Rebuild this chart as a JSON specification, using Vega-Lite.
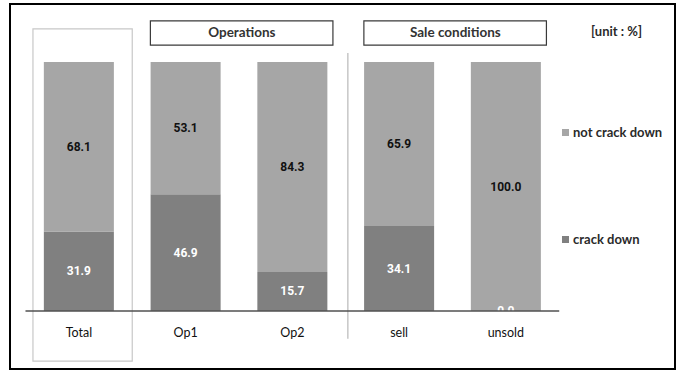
{
  "$schema": "https://vega.github.io/schema/vega-lite/v6.json",
  "width": 665,
  "height": 365,
  "autosize": "none",
  "padding": {"left": 10, "top": 4, "right": 9, "bottom": 5},
  "config": {
    "view": {"stroke": "#000", "strokeWidth": 2},
    "font": "Lato"
  },
  "title": {
    "text": "[unit : %]",
    "anchor": "end",
    "frame": "group",
    "dx": -33,
    "dy": 39,
    "font": "Lato",
    "fontSize": 13,
    "fontWeight": "bold",
    "color": "#2a2a2a"
  },
  "datasets": {
    "shares": [
      {"cat": "Total", "status": "crack down", "value": 31.9},
      {"cat": "Total", "status": "not crack down", "value": 68.1},
      {"cat": "Op1", "status": "crack down", "value": 46.9},
      {"cat": "Op1", "status": "not crack down", "value": 53.1},
      {"cat": "Op2", "status": "crack down", "value": 15.7},
      {"cat": "Op2", "status": "not crack down", "value": 84.3},
      {"cat": "sell", "status": "crack down", "value": 34.1},
      {"cat": "sell", "status": "not crack down", "value": 65.9},
      {"cat": "unsold", "status": "crack down", "value": 0.0},
      {"cat": "unsold", "status": "not crack down", "value": 100.0}
    ],
    "groups": [
      {"group": "Operations", "first": "Op1", "last": "Op2"},
      {"group": "Sale conditions", "first": "sell", "last": "unsold"}
    ]
  },
  "layer": [
    {
      "data": {"name": "shares"},
      "transform": [
        {"stack": "value", "groupby": ["cat"], "sort": [{"field": "status", "order": "ascending"}], "as": ["v0", "v1"]}
      ],
      "mark": {"type": "bar", "width": {"band": 0.656}},
      "encoding": {
        "x": {
          "field": "cat",
          "type": "nominal",
          "scale": {"domain": ["Total", "Op1", "Op2", "sell", "unsold"], "paddingInner": 0, "paddingOuter": 0.6148, "align": 0.118},
          "axis": {
            "title": null,
            "domain": false,
            "ticks": false,
            "offset": -58,
            "labelPadding": 15,
            "labelAngle": 0,
            "labelFont": "Lato",
            "labelFontSize": 12.5,
            "labelColor": "#111"
          }
        },
        "y": {"field": "v0", "type": "quantitative", "scale": {"domain": [-23.3, 123.3], "nice": false, "zero": false}, "axis": null},
        "y2": {"field": "v1"},
        "color": {
          "field": "status",
          "type": "nominal",
          "scale": {"domain": ["not crack down", "crack down"], "range": ["#a6a6a6", "#808080"]},
          "legend": {
            "orient": "none",
            "legendX": 549,
            "legendY": 122,
            "title": null,
            "symbolType": "square",
            "symbolSize": 49,
            "symbolStrokeWidth": 0,
            "rowPadding": 93,
            "padding": 0,
            "labelOffset": 1,
            "labelFont": "Lato",
            "labelFontSize": 13,
            "labelFontWeight": "bold",
            "labelColor": "#2a2a2a"
          }
        }
      }
    },
    {
      "data": {"name": "shares"},
      "transform": [
        {"stack": "value", "groupby": ["cat"], "sort": [{"field": "status", "order": "ascending"}], "as": ["v0", "v1"]},
        {"calculate": "(datum.v0 + datum.v1) / 2", "as": "mid"}
      ],
      "mark": {"type": "text", "font": "Roboto", "fontSize": 12, "fontWeight": "bold", "baseline": "middle", "align": "center"},
      "encoding": {
        "x": {"field": "cat", "type": "nominal"},
        "y": {"field": "mid", "type": "quantitative"},
        "text": {"field": "value", "type": "quantitative", "format": ".1f"},
        "color": {
          "condition": {"test": "datum.status === 'crack down'", "value": "#ffffff"},
          "value": "#111111"
        }
      }
    },
    {
      "data": {"values": [{"cat": "Total"}]},
      "mark": {"type": "rect", "filled": false, "stroke": "#c8c8c8", "strokeWidth": 1.2},
      "encoding": {
        "x": {"field": "cat", "type": "nominal", "bandPosition": 0.07},
        "x2": {"field": "cat", "bandPosition": 1.0},
        "y": {"datum": 113.3},
        "y2": {"datum": -20.1}
      }
    },
    {
      "data": {"values": [{"cat": "sell"}]},
      "mark": {"type": "rule", "stroke": "#b8b8b8", "strokeWidth": 1.2},
      "encoding": {
        "x": {"field": "cat", "type": "nominal", "bandPosition": 0.02},
        "y": {"datum": 103.6},
        "y2": {"datum": -11.2}
      }
    },
    {
      "data": {"name": "groups"},
      "mark": {"type": "rect", "fill": "#fff", "stroke": "#3a3a3a", "strokeWidth": 1.2},
      "encoding": {
        "x": {"field": "first", "type": "nominal", "bandPosition": 0.17},
        "x2": {"field": "last", "bandPosition": 0.88},
        "y": {"datum": 116.5},
        "y2": {"datum": 106.8}
      }
    },
    {
      "data": {"name": "groups"},
      "mark": {"type": "text", "font": "Lato", "fontSize": 13.5, "fontWeight": "bold", "color": "#333", "baseline": "middle", "align": "center"},
      "encoding": {
        "x": {"field": "last", "type": "nominal", "bandPosition": 0.027},
        "y": {"datum": 111.6},
        "text": {"field": "group"}
      }
    },
    {
      "data": {"values": [{"first": "Total", "last": "unsold"}]},
      "mark": {"type": "rule", "stroke": "#505050", "strokeWidth": 1.6},
      "encoding": {
        "x": {"field": "first", "type": "nominal", "bandPosition": 0},
        "x2": {"field": "last", "bandPosition": 1},
        "y": {"datum": 0}
      }
    }
  ]
}
